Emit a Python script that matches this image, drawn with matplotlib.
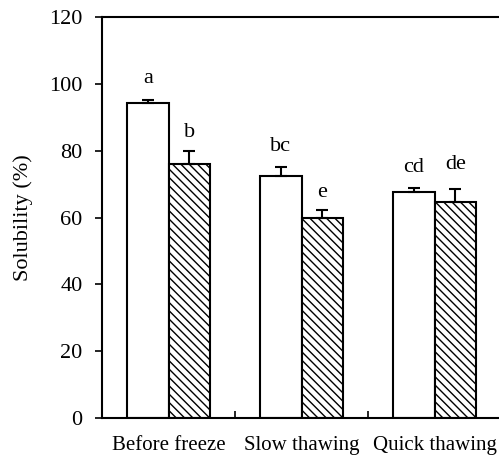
import numpy as np
import matplotlib.pyplot as plt

groups = ['Before freeze', 'Slow thawing', 'Quick thawing']
white_vals = [94.3, 72.4, 67.7]
white_err = [0.9, 2.6, 1.0]
hatch_vals = [76.0, 59.8, 64.5]
hatch_err = [4.0, 2.4, 3.9]
white_letters = ['a', 'bc', 'cd']
hatch_letters = ['b', 'e', 'de']


def main():
    plt.rcParams['font.family'] = ['Liberation Serif', 'DejaVu Serif']
    plt.rcParams['hatch.linewidth'] = 1.0

    fig = plt.figure(figsize=(4.99, 4.57), dpi=100)
    ax = fig.add_axes([0.2044, 0.0853, 0.80, 0.8775])

    x = np.arange(len(groups)) + 0.5
    w = 0.31
    ekw = dict(capsize=4.5, elinewidth=1.5, capthick=1.5, ecolor='black')
    ax.bar(x - w/2, white_vals, w, color='white', edgecolor='black', linewidth=1.5,
           yerr=[np.zeros(3), white_err], error_kw=ekw, zorder=2)
    ax.bar(x + w/2, hatch_vals, w, color='white', edgecolor='black', linewidth=1.5,
           hatch='\\\\\\\\', yerr=[np.zeros(3), hatch_err], error_kw=ekw, zorder=2)

    # letter offsets above error bars
    hatch_off = [4, 4, 6]
    for i in range(len(groups)):
        ax.text(x[i] - w/2, white_vals[i] + white_err[i] + 5, white_letters[i],
                ha='center', va='baseline', fontsize=16)
        ax.text(x[i] + w/2, hatch_vals[i] + hatch_err[i] + hatch_off[i], hatch_letters[i],
                ha='center', va='baseline', fontsize=16)

    ax.set_xlim(0, 3)
    ax.set_ylim(0, 120)
    ax.set_yticks(np.arange(0, 121, 20))
    ax.tick_params(axis='y', direction='out', length=5, width=1.2, labelsize=16, pad=9)
    ax.set_xticks(x)
    ax.set_xticklabels(groups)
    ax.tick_params(axis='x', length=0, labelsize=15, pad=13)
    ax.set_xticks([1, 2], minor=True)
    ax.tick_params(axis='x', which='minor', direction='in', length=5, width=1.2)
    ax.set_ylabel('Solubility (%)', fontsize=16, labelpad=12)
    for s in ax.spines.values():
        s.set_linewidth(1.5)

    fig.savefig('out.png', dpi=100)


if __name__ == '__main__':
    main()
